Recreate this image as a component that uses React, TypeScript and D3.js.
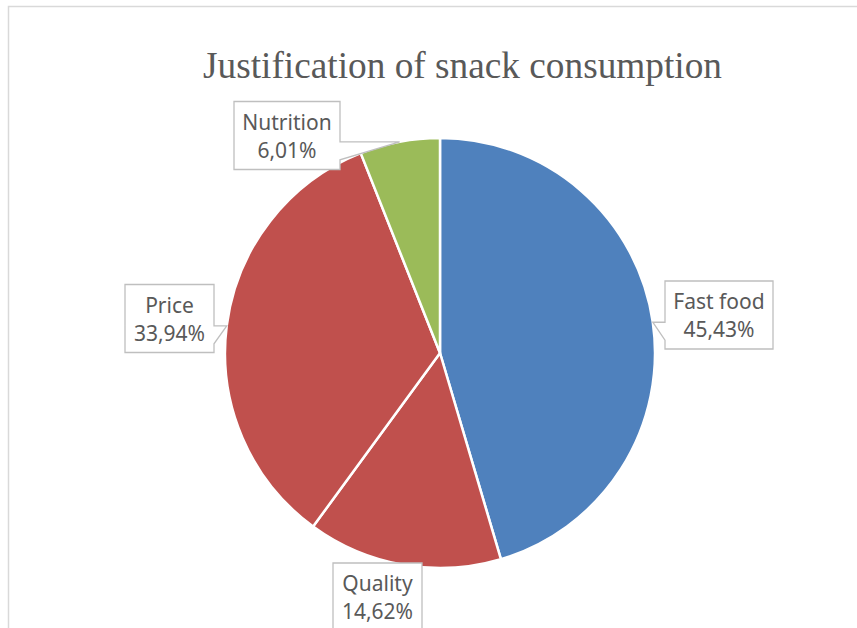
import React from "react";
import * as d3 from "d3";

const categories = ["Fast food", "Quality", "Price", "Nutrition"];
const values = [45.43, 14.62, 33.94, 6.01];
const valueLabels = ["45,43%", "14,62%", "33,94%", "6,01%"];
const colors = ["#4F81BD", "#C0504D", "#C0504D", "#9BBB59"];
const title = "Justification of snack consumption";

// layout
const W = 857, H = 628;
const CX = 440, CY = 353, R = 215;
const labelOffsets = [
  { dx: 279, dy: -38, w: 108 },
  { dx: -62.5, dy: 244, w: 89 },
  { dx: -270.5, dy: -34.5, w: 89 },
  { dx: -153, dy: -217.5, w: 106 },
];
const BOX_H = 68;
const NOTCH = 18;
const LABEL_FONT = "'Noto Sans', 'Open Sans', sans-serif";

function calloutPath(left: number, top: number, w: number, h: number, tip: [number, number]) {
  const right = left + w, bottom = top + h;
  const [tx, ty] = tip;
  const inside = tx >= left - 2 && tx <= right + 2 && ty >= top - 2 && ty <= bottom + 2;
  const y0 = Math.max(top, Math.min(ty, bottom - NOTCH));
  const y1 = y0 + NOTCH;
  const p = d3.path();
  p.moveTo(left, top);
  p.lineTo(right, top);
  if (!inside && tx > right) {
    p.lineTo(right, y0); p.lineTo(tx, ty); p.lineTo(right, y1);
  }
  p.lineTo(right, bottom);
  p.lineTo(left, bottom);
  if (!inside && tx < left) {
    p.lineTo(left, y1); p.lineTo(tx, ty); p.lineTo(left, y0);
  }
  p.closePath();
  return p.toString();
}

export default function App() {
  const pie = d3.pie<number>().sort(null).value((d) => d);
  const arcs = pie(values);
  const arc = d3.arc<d3.PieArcDatum<number>>().innerRadius(0).outerRadius(R);

  return (
    <svg width={W} height={H} style={{ position: "absolute", left: 0, top: 0, background: "#fff" }}>
      <rect x={8.5} y={6.5} width={W + 20} height={H + 20} fill="#fff" stroke="#D9D9D9" strokeWidth={1.5} />
      <text x={462.5} y={78} textAnchor="middle" fontFamily="'Liberation Serif', 'Times New Roman', serif" fontSize={37.3} fill="#595959">
        {title}
      </text>
      <g transform={`translate(${CX},${CY})`}>
        {arcs.map((a, i) => (
          <path key={i} d={arc(a) || ""} fill={colors[i]} stroke="#fff" strokeWidth={2.5} strokeLinejoin="round" />
        ))}
      </g>
      {arcs.map((a, i) => {
        const mid = (a.startAngle + a.endAngle) / 2;
        const tip: [number, number] = [CX + R * Math.sin(mid), CY - R * Math.cos(mid)];
        const o = labelOffsets[i];
        const cx = CX + o.dx, cy = CY + o.dy;
        const left = cx - o.w / 2, top = cy - BOX_H / 2;
        return (
          <g key={i}>
            <path d={calloutPath(left, top, o.w, BOX_H, tip)} fill="#fff" stroke="#BFBFBF" strokeWidth={1.3} />
            <text x={cx} y={top + 28} textAnchor="middle" fontFamily={LABEL_FONT} fontSize={21} fill="#595959">
              {categories[i]}
            </text>
            <text x={cx} y={top + 56} textAnchor="middle" fontFamily={LABEL_FONT} fontSize={21} fill="#595959">
              {valueLabels[i]}
            </text>
          </g>
        );
      })}
    </svg>
  );
}
